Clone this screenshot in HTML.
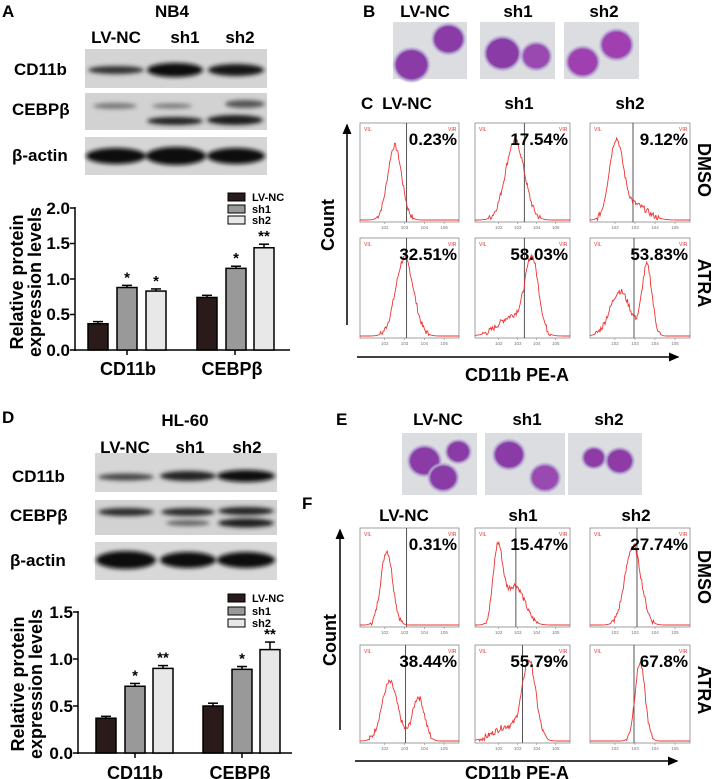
<!DOCTYPE html>
<html><head><meta charset="utf-8"><style>
html,body{margin:0;padding:0;background:#fff;}
svg{display:block;}
text{font-family:"Liberation Sans",sans-serif;}
.b{font-weight:bold;}
</style></head><body>
<svg id="s" width="714" height="779" viewBox="0 0 714 779" xmlns="http://www.w3.org/2000/svg">
<defs>
<filter id="bl" x="-20%" y="-50%" width="140%" height="200%"><feGaussianBlur stdDeviation="2.2"/></filter>
<filter id="bl2"><feGaussianBlur stdDeviation="0.7"/></filter>
<marker id="ar" markerWidth="8" markerHeight="8" refX="6" refY="4" orient="auto"><path d="M0,1 L7,4 L0,7 z" fill="#000"/></marker>
</defs>

<!-- Panel A -->
<text x="2" y="17" class="b" font-size="17">A</text>
<text x="172" y="17" class="b" font-size="17" text-anchor="middle">NB4</text>
<text x="116" y="43" class="b" font-size="17" text-anchor="middle">LV-NC</text>
<text x="185" y="43" class="b" font-size="17" text-anchor="middle">sh1</text>
<text x="240" y="43" class="b" font-size="17" text-anchor="middle">sh2</text>
<rect x="85" y="49" width="182" height="39" fill="#d4d4d4"/>
<rect x="85" y="93" width="182" height="37" fill="#d2d2d2"/>
<rect x="85" y="137" width="182" height="38" fill="#d6d6d6"/>
<g filter="url(#bl)">
<ellipse cx="116" cy="70" rx="28" ry="4" fill="#333"/>
<ellipse cx="175" cy="70" rx="28" ry="7" fill="#111"/>
<ellipse cx="236" cy="70" rx="28" ry="6" fill="#151515"/>
<ellipse cx="115" cy="106" rx="22" ry="3" fill="#777"/>
<ellipse cx="172" cy="106" rx="20" ry="2.5" fill="#777"/>
<ellipse cx="245" cy="104" rx="20" ry="4" fill="#555"/>
<ellipse cx="175" cy="121" rx="28" ry="4" fill="#222"/>
<ellipse cx="235" cy="120" rx="28" ry="5" fill="#1a1a1a"/>
<ellipse cx="116" cy="156" rx="30" ry="8" fill="#111"/>
<ellipse cx="176" cy="156" rx="30" ry="9" fill="#0e0e0e"/>
<ellipse cx="236" cy="156" rx="29" ry="8" fill="#111"/>
</g>
<text x="14" y="75" class="b" font-size="17">CD11b</text>
<text x="12" y="115" class="b" font-size="17">CEBPβ</text>
<text x="12" y="161" class="b" font-size="17">β-actin</text>

<!-- Panel D -->
<text x="2" y="423" class="b" font-size="17">D</text>
<text x="185" y="426" class="b" font-size="17" text-anchor="middle">HL-60</text>
<text x="125" y="453" class="b" font-size="17" text-anchor="middle">LV-NC</text>
<text x="190" y="453" class="b" font-size="17" text-anchor="middle">sh1</text>
<text x="247" y="453" class="b" font-size="17" text-anchor="middle">sh2</text>
<rect x="95" y="453" width="182" height="39" fill="#d6d6d6"/>
<rect x="95" y="500" width="182" height="35" fill="#d2d2d2"/>
<rect x="95" y="542" width="182" height="38" fill="#d8d8d8"/>
<g filter="url(#bl)">
<ellipse cx="126" cy="477" rx="28" ry="3.5" fill="#444"/>
<ellipse cx="188" cy="476" rx="28" ry="5" fill="#222"/>
<ellipse cx="246" cy="476" rx="29" ry="6" fill="#111"/>
<ellipse cx="126" cy="512" rx="28" ry="4" fill="#2a2a2a"/>
<ellipse cx="188" cy="512" rx="27" ry="4" fill="#2a2a2a"/>
<ellipse cx="246" cy="511" rx="28" ry="4" fill="#222"/>
<ellipse cx="188" cy="523" rx="22" ry="3" fill="#666"/>
<ellipse cx="246" cy="523" rx="28" ry="4.5" fill="#1c1c1c"/>
<ellipse cx="126" cy="560" rx="30" ry="9" fill="#0e0e0e"/>
<ellipse cx="188" cy="560" rx="28" ry="8" fill="#111"/>
<ellipse cx="246" cy="560" rx="29" ry="8" fill="#0e0e0e"/>
</g>
<text x="12" y="482" class="b" font-size="17">CD11b</text>
<text x="10" y="521" class="b" font-size="17">CEBPβ</text>
<text x="10" y="566" class="b" font-size="17">β-actin</text>

<!-- B / E labels -->
<text x="363" y="17" class="b" font-size="17">B</text>
<text x="425" y="17" class="b" font-size="17" text-anchor="middle">LV-NC</text>
<text x="518" y="17" class="b" font-size="17" text-anchor="middle">sh1</text>
<text x="604" y="17" class="b" font-size="17" text-anchor="middle">sh2</text>
<text x="336" y="425" class="b" font-size="17">E</text>
<text x="438" y="425" class="b" font-size="17" text-anchor="middle">LV-NC</text>
<text x="527" y="425" class="b" font-size="17" text-anchor="middle">sh1</text>
<text x="609" y="425" class="b" font-size="17" text-anchor="middle">sh2</text>

<text x="361" y="109" class="b" font-size="17">C</text>
<text x="407" y="109" class="b" font-size="17" text-anchor="middle">LV-NC</text>
<text x="519" y="109" class="b" font-size="17" text-anchor="middle">sh1</text>
<text x="630" y="109" class="b" font-size="17" text-anchor="middle">sh2</text>
<text x="302" y="509" class="b" font-size="17">F</text>
<text x="404" y="521" class="b" font-size="17" text-anchor="middle">LV-NC</text>
<text x="523" y="521" class="b" font-size="17" text-anchor="middle">sh1</text>
<text x="636" y="521" class="b" font-size="17" text-anchor="middle">sh2</text>

<!-- axes arrows -->
<line x1="347" y1="325" x2="347" y2="125" stroke="#000" stroke-width="1.5" marker-end="url(#ar)"/>
<text transform="translate(334,225) rotate(-90)" class="b" font-size="18" text-anchor="middle">Count</text>
<line x1="357" y1="357" x2="678" y2="357" stroke="#000" stroke-width="1.5" marker-end="url(#ar)"/>
<text x="517" y="381" class="b" font-size="18" text-anchor="middle">CD11b PE-A</text>
<text transform="translate(698,170) rotate(90)" class="b" font-size="18" text-anchor="middle">DMSO</text>
<text transform="translate(698,283) rotate(90)" class="b" font-size="18" text-anchor="middle">ATRA</text>

<line x1="340" y1="730" x2="340" y2="530" stroke="#000" stroke-width="1.5" marker-end="url(#ar)"/>
<text transform="translate(336,640) rotate(-90)" class="b" font-size="18" text-anchor="middle">Count</text>
<line x1="355" y1="761" x2="677" y2="761" stroke="#000" stroke-width="1.5" marker-end="url(#ar)"/>
<text x="517" y="779" class="b" font-size="18" text-anchor="middle">CD11b PE-A</text>
<text transform="translate(698,577) rotate(90)" class="b" font-size="18" text-anchor="middle">DMSO</text>
<text transform="translate(698,690) rotate(90)" class="b" font-size="18" text-anchor="middle">ATRA</text>

<!-- Bar chart A -->
<g>
<text transform="translate(23,282) rotate(-90)" class="b" font-size="18" text-anchor="middle">Relative protein</text>
<text transform="translate(41,282) rotate(-90)" class="b" font-size="18" text-anchor="middle">expression  levels</text>
<line x1="75" y1="207" x2="75" y2="351" stroke="#000" stroke-width="1.5"/>
<line x1="74" y1="350" x2="290" y2="350" stroke="#000" stroke-width="1.5"/>
<g stroke="#000" stroke-width="1.5">
<line x1="70" y1="208" x2="75" y2="208"/><line x1="70" y1="243.5" x2="75" y2="243.5"/><line x1="70" y1="279" x2="75" y2="279"/><line x1="70" y1="314.5" x2="75" y2="314.5"/><line x1="70" y1="350" x2="75" y2="350"/>
<line x1="127" y1="350" x2="127" y2="355"/><line x1="235" y1="350" x2="235" y2="355"/>
</g>
<g class="b" font-size="17" text-anchor="end">
<text x="70" y="214">2.0</text><text x="70" y="249">1.5</text><text x="70" y="285">1.0</text><text x="70" y="320">0.5</text><text x="70" y="356">0.0</text>
</g>
<text x="128" y="375" class="b" font-size="18" text-anchor="middle">CD11b</text>
<text x="232" y="375" class="b" font-size="18" text-anchor="middle">CEBPβ</text>
<rect x="228" y="193" width="17" height="8" fill="#2a1a1a" stroke="#000"/>
<rect x="228" y="205" width="17" height="8" fill="#999" stroke="#000"/>
<rect x="228" y="216" width="17" height="8" fill="#e8e8e8" stroke="#000"/>
<g class="b" font-size="11"><text x="252" y="201">LV-NC</text><text x="252" y="213">sh1</text><text x="252" y="224">sh2</text></g>
<g id="barsA"></g>
</g>

<!-- Bar chart D -->
<g>
<text transform="translate(24,684) rotate(-90)" class="b" font-size="18" text-anchor="middle">Relative  protein</text>
<text transform="translate(42,684) rotate(-90)" class="b" font-size="18" text-anchor="middle">expression levels</text>
<line x1="78" y1="611" x2="78" y2="754" stroke="#000" stroke-width="1.5"/>
<line x1="77" y1="753" x2="292" y2="753" stroke="#000" stroke-width="1.5"/>
<g stroke="#000" stroke-width="1.5">
<line x1="73" y1="612" x2="78" y2="612"/><line x1="73" y1="659" x2="78" y2="659"/><line x1="73" y1="706" x2="78" y2="706"/><line x1="73" y1="753" x2="78" y2="753"/>
<line x1="135" y1="753" x2="135" y2="758"/><line x1="242" y1="753" x2="242" y2="758"/>
</g>
<g class="b" font-size="17" text-anchor="end">
<text x="73" y="618">1.5</text><text x="73" y="665">1.0</text><text x="73" y="712">0.5</text><text x="73" y="759">0.0</text>
</g>
<text x="135" y="779" class="b" font-size="18" text-anchor="middle">CD11b</text>
<text x="240" y="779" class="b" font-size="18" text-anchor="middle">CEBPβ</text>
<rect x="228" y="594" width="17" height="8" fill="#2a1a1a" stroke="#000"/>
<rect x="228" y="607" width="17" height="8" fill="#999" stroke="#000"/>
<rect x="228" y="619" width="17" height="8" fill="#e8e8e8" stroke="#000"/>
<g class="b" font-size="11"><text x="252" y="602">LV-NC</text><text x="252" y="615">sh1</text><text x="252" y="627">sh2</text></g>
<g id="barsD"></g>
</g>

<g id="cells"></g>
<g id="flow"></g>
</svg>
<script>
var NS="http://www.w3.org/2000/svg",S=document.getElementById("s");
function el(p,t,a,txt){var e=document.createElementNS(NS,t);for(var k in a)e.setAttribute(k,a[k]);if(txt!=null)e.textContent=txt;p.appendChild(e);return e;}
function bars(g,y0,sc,xs,vals,errs,stars){
 var fills=["#2a1a1a","#999","#e8e8e8"];
 for(var i=0;i<6;i++){var x=xs[i],v=vals[i],h=v*sc,top=y0-h,et=y0-(v+errs[i])*sc;
  el(g,"line",{x1:x+10,y1:top,x2:x+10,y2:et,stroke:"#000","stroke-width":1.5});
  el(g,"line",{x1:x+5,y1:et,x2:x+15,y2:et,stroke:"#000","stroke-width":1.5});
  el(g,"rect",{x:x,y:top,width:20,height:h,fill:fills[i%3],stroke:"#000","stroke-width":1.5});
  if(stars[i])el(g,"text",{x:x+10,y:et-3,"text-anchor":"middle","font-size":15,"font-weight":"bold"},stars[i]);
 }}
bars(document.getElementById("barsA"),350,71,[88,117,146,197,226,254],[.37,.88,.83,.74,1.15,1.44],[.03,.03,.03,.03,.03,.05],["","*","*","","*","**"]);
bars(document.getElementById("barsD"),753,94,[96,125,153,203,232,260],[.37,.71,.90,.50,.89,1.10],[.02,.03,.03,.03,.03,.08],["","*","**","","*","**"]);
var C=document.getElementById("cells");
function img(x,y,w,h,cells){el(C,"rect",{x:x,y:y,width:w,height:h,fill:"#dcdde0"});
 var g=el(C,"g",{filter:"url(#bl2)"});
 cells.forEach(function(c){el(g,"ellipse",{cx:x+c[0]*w,cy:y+c[1]*h,rx:c[2]*w+2,ry:c[2]*w+1,fill:"#b7a9d4"});
 el(g,"ellipse",{cx:x+c[0]*w,cy:y+c[1]*h,rx:c[2]*w,ry:c[2]*w*0.92,fill:c[3]||"#8a3aa6"});});}
img(393,22,74,57,[[.25,.75,.22],[.75,.3,.2]]);
img(480,22,75,57,[[.3,.55,.22],[.75,.6,.18,"#9a48b0"]]);
img(564,22,75,57,[[.25,.7,.2,"#a03fb0"],[.7,.4,.2,"#a03fb0"]]);
img(402,433,75,62,[[.3,.45,.2],[.75,.3,.15],[.55,.72,.18]]);
img(485,433,80,62,[[.3,.35,.18],[.75,.72,.17,"#9a48b0"]]);
img(568,433,74,62,[[.35,.4,.14,"#8e3aa6"],[.7,.45,.17,"#8e3aa6"]]);
var F=document.getElementById("flow");
var seed=7;function rnd(){seed=(seed*9301+49297)%233280;return seed/233280;}
function hist(x,y,w,h,peaks,gate,pct){
 el(F,"rect",{x:x,y:y,width:w,height:h,fill:"none",stroke:"#888","stroke-width":0.8});
 el(F,"line",{x1:x+gate*w,y1:y,x2:x+gate*w,y2:y+h,stroke:"#555","stroke-width":1});
 el(F,"text",{x:x+4,y:y+8,"font-size":5,fill:"#d33"},"VIL");
 el(F,"text",{x:x+w-11,y:y+8,"font-size":5,fill:"#d33"},"VIR");
 for(var k=1;k<=4;k++){var tx=x+w*(0.05+k*0.2);el(F,"line",{x1:tx,y1:y+h,x2:tx,y2:y+h+2,stroke:"#888","stroke-width":.6});el(F,"text",{x:tx,y:y+h+7,"font-size":4.5,fill:"#777","text-anchor":"middle"},"10"+(k+1));}
 var d="";for(var i=0;i<=120;i++){var t=i/120,v=0;peaks.forEach(function(p){v+=p[2]*Math.exp(-Math.pow((t-p[0])/p[1],2)/2);});
  if(v>0.02)v+= (rnd()-.5)*0.06;if(v<0)v=0;var px=x+t*w,py=y+h-2-v*h;d+=(i?"L":"M")+px.toFixed(1)+","+py.toFixed(1);}
 el(F,"path",{d:d,fill:"none",stroke:"#e33","stroke-width":0.9});
 el(F,"text",{x:x+w-2,y:y+22,"font-size":17,"font-weight":"bold","text-anchor":"end"},pct);}
var cx=[360,475,590],cw=[99,95,100];
var Ct=[[[[.35,.07,.75]],.47,"0.23%"],[[[.42,.10,.8]],.52,"17.54%"],[[[.26,.07,.78],[.45,.12,.15]],.43,"9.12%"]];
var Cb=[[[[.45,.09,.78]],.47,"32.51%"],[[[.6,.07,.72],[.4,.15,.2]],.52,"58.03%"],[[[.3,.1,.45],[.57,.05,.7]],.44,"53.83%"]];
var Ft=[[[[.27,.06,.75]],.47,"0.31%"],[[[.24,.05,.75],[.42,.1,.4]],.43,"15.47%"],[[[.43,.08,.8]],.47,"27.74%"]];
var Fb=[[[[.3,.08,.6],[.59,.06,.45]],.46,"38.44%"],[[[.57,.07,.78],[.35,.15,.15]],.5,"55.79%"],[[[.5,.05,.8]],.44,"67.8%"]];
for(var i=0;i<3;i++){hist(cx[i],123,cw[i],99,Ct[i][0],Ct[i][1],Ct[i][2]);hist(cx[i],238,cw[i],100,Cb[i][0],Cb[i][1],Cb[i][2]);
 hist(cx[i],528,cw[i],99,Ft[i][0],Ft[i][1],Ft[i][2]);hist(cx[i],645,cw[i],98,Fb[i][0],Fb[i][1],Fb[i][2]);}
</script>
</body></html>
